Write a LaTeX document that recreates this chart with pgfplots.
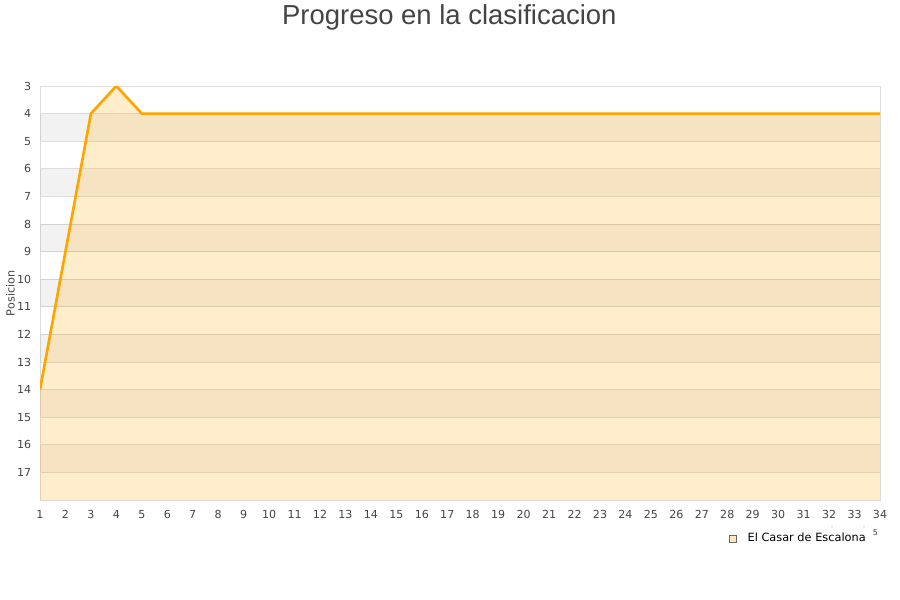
\documentclass[border=0pt]{standalone}
\usepackage{pgfplots}
\pgfplotsset{compat=1.18}
\usepackage{fontspec}
\setmainfont{DejaVu Sans}
\newfontfamily\titlefont{Liberation Sans}
\definecolor{lineor}{HTML}{FFA500}
\definecolor{txt}{HTML}{444444}
\definecolor{gridc}{HTML}{DDDDDD}
\begin{document}
\begin{tikzpicture}
\useasboundingbox (0,0) rectangle (675pt,450pt);
\begin{axis}[
  at={(30pt,75pt)}, anchor=south west,
  scale only axis, width=630pt, height=310.5pt,
  xmin=1, xmax=34, ymin=3, ymax=18, y dir=reverse,
  xtick={1,...,34}, ytick={3,...,17},
  major tick length=0pt,
  /pgf/number format/assume math mode=true,
  tick label style={font=\fontsize{8.3}{9}\selectfont, text=txt},
  xticklabel style={yshift=-4.2pt},
  yticklabel style={xshift=-3pt},
  ymajorgrids, grid style={gridc, line width=0.6pt},
  axis line style={gridc, line width=0.6pt},
  clip=true,
]
\foreach \b in {4,6,...,16}{
  \edef\temp{\noexpand\fill[black, fill opacity=0.05] (axis cs:1,\b) rectangle (axis cs:34,\b+1);}
  \temp
}
\addplot[draw=none, fill=lineor, fill opacity=0.2] coordinates {
(1,14) (2,9) (3,4) (4,3) (5,4) (6,4) (7,4) (8,4) (9,4) (10,4) (11,4) (12,4) (13,4) (14,4) (15,4) (16,4) (17,4) (18,4) (19,4) (20,4) (21,4) (22,4) (23,4) (24,4) (25,4) (26,4) (27,4) (28,4) (29,4) (30,4) (31,4) (32,4) (33,4) (34,4) (34,18) (1,18)} -- cycle;
\addplot[lineor, line width=2pt, line join=round] coordinates {
(1,14) (2,9) (3,4) (4,3) (5,4) (6,4) (7,4) (8,4) (9,4) (10,4) (11,4) (12,4) (13,4) (14,4) (15,4) (16,4) (17,4) (18,4) (19,4) (20,4) (21,4) (22,4) (23,4) (24,4) (25,4) (26,4) (27,4) (28,4) (29,4) (30,4) (31,4) (32,4) (33,4) (34,4)};
\end{axis}
% title
\node[font=\titlefont\fontsize{20.6}{24}\selectfont, text=txt] at (337pt,437pt) {Progreso en la clasificacion};
% y label
\node[rotate=90, font=\fontsize{8.4}{9}\selectfont, text=txt] at (7.8pt,230pt) {Posicion};
% legend
\draw[gray!80!black, fill=lineor!25, line width=0.4pt] (546.9pt,43.6pt) rectangle (552pt,48.7pt);
\node[anchor=west, font=\fontsize{8.5}{9}\selectfont, text=black, inner sep=0pt] at (560.5pt,47.2pt) {El Casar de Escalona};
\node[font=\fontsize{6}{7}\selectfont, text=txt, inner sep=0pt] at (656.5pt,50.6pt) {5};
\fill[txt] (624pt,54.8pt) circle (0.35pt);
\fill[txt] (648pt,54.8pt) circle (0.35pt);
\end{tikzpicture}
\end{document}
